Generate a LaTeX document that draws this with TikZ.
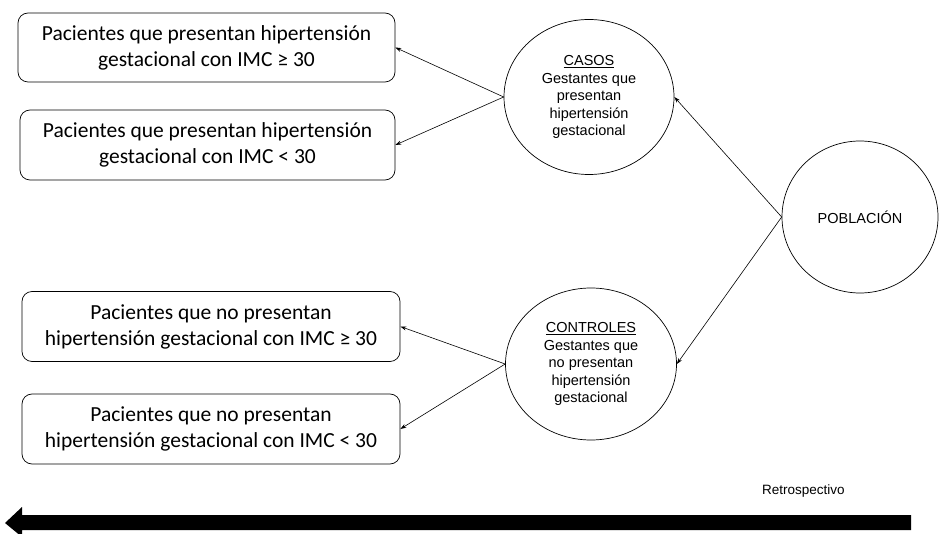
\documentclass[tikz,border=0pt]{standalone}
\usepackage{fontspec}
\setmainfont{Carlito}
\newfontfamily\arialf{Liberation Sans}
\usetikzlibrary{shapes.geometric,arrows.meta,calc}
\tikzset{
  boxnode/.style={draw, rounded corners=10pt, minimum width=377pt, minimum height=69pt, align=center, font=\fontsize{21.5}{26}\selectfont, inner sep=0pt, line width=0.7pt},
  circnode/.style={draw, ellipse, align=center, font=\arialf\fontsize{14.5}{17.5}\selectfont, inner sep=0pt, line width=0.7pt},
  conn/.style={line width=0.6pt, -{Stealth[length=6pt,width=4pt]}}
}
\begin{document}
\begin{tikzpicture}[x=1pt,y=-1pt]
\useasboundingbox (0,0) rectangle (939,534);
\node[boxnode] (b1) at (206.5,47.5) {Pacientes que presentan hipertensión\\gestacional con IMC ≥ 30};
\node[boxnode, minimum width=375pt, minimum height=70pt] (b2) at (207.5,145) {Pacientes que presentan hipertensión\\gestacional con IMC < 30};
\node[boxnode, minimum width=378pt, minimum height=70pt] (b3) at (211,326.5) {Pacientes que no presentan\\hipertensión gestacional con IMC ≥ 30};
\node[boxnode, minimum width=378pt, minimum height=70pt] (b4) at (211,429) {Pacientes que no presentan\\hipertensión gestacional con IMC < 30};
\node[circnode, minimum width=170pt, minimum height=155pt] (casos) at (589,97) {\underline{CASOS}\\Gestantes que\\presentan\\hipertensión\\gestacional};
\node[circnode, minimum width=171pt, minimum height=152pt] (ctrl) at (591,364) {\underline{CONTROLES}\\Gestantes que\\no presentan\\hipertensión\\gestacional};
\node[circnode, minimum width=156pt, minimum height=152pt] (pob) at (860,217) {POBLACIÓN};
\draw[conn] (pob.west) -- (casos.east);
\draw[conn] (pob.west) -- (ctrl.east);
\draw[conn] (casos.west) -- (b1.east);
\draw[conn] (casos.west) -- (b2.east);
\draw[conn] (ctrl.west) -- (b3.east);
\draw[conn] (ctrl.west) -- (b4.east);
\node[font=\arialf\fontsize{13.5}{15}\selectfont, anchor=west, inner sep=0pt] (retro) at (762,491) {Retrospectivo};
\coordinate (ra) at (911,523);
\coordinate (la) at (5,523);
\fill ($(ra)+(0,-8)$) -- ($(la)+(17,-8)$) -- ($(la)+(17,-16)$) -- (la) -- ($(la)+(17,14)$) -- ($(la)+(17,7)$) -- ($(ra)+(0,7)$) -- cycle;
\end{tikzpicture}
\end{document}
